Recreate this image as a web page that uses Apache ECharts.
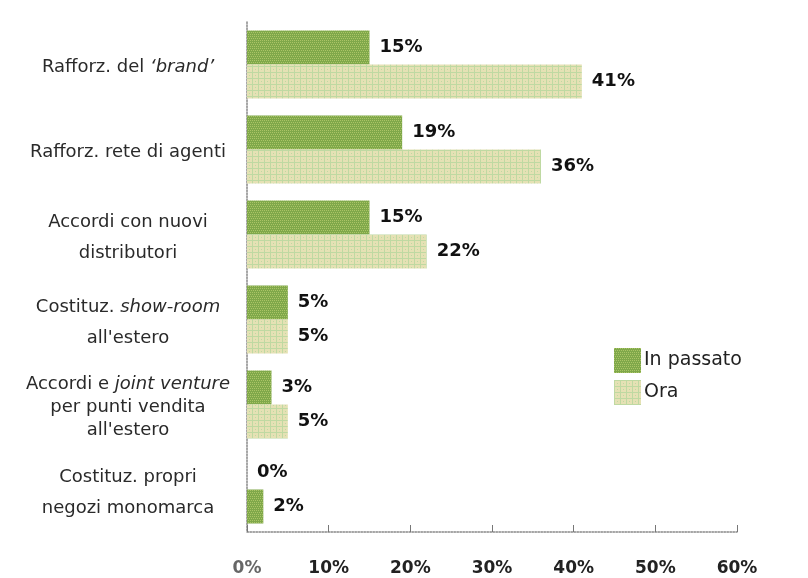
<!DOCTYPE html>
<html>
<head>
<meta charset="utf-8">
<script src="https://cdn.jsdelivr.net/npm/echarts@6/dist/echarts.min.js"></script>
<style>
  html, body { margin: 0; padding: 0; background: #fff; }
  #chart { width: 808px; height: 578px; }
</style>
</head>
<body>
<div id="chart"></div>
<script>
// Strategie di sviluppo commerciale all'estero (% di imprese)
// {i|...} marks the italic part of a category name
const categories = [
  "Rafforz. del {i|‘brand’}",
  "Rafforz. rete di agenti",
  "Accordi con nuovi\ndistributori",
  "Costituz. {i|show-room}\nall'estero",
  "Accordi e {i|joint venture}\nper punti vendita\nall'estero",
  "Costituz. propri\nnegozi monomarca"
];
const seriesNames = ["In passato", "Ora"];
const inPassato = [15, 19, 15, 5, 3, 0];
const ora = [41, 36, 22, 5, 5, 2];
const xTicks = [0, 10, 20, 30, 40, 50, 60];

// Textured fills for the two series
function makePattern(base, dot, kind) {
  const c = document.createElement('canvas');
  c.width = 6; c.height = 6;
  const g = c.getContext('2d');
  g.fillStyle = base;
  g.fillRect(0, 0, 6, 6);
  g.fillStyle = dot;
  if (kind === 'dots') {
    for (let y = 0; y < 6; y += 2) {
      for (let x = (y / 2) % 2; x < 6; x += 2) g.fillRect(x, y, 1, 1);
    }
  } else {
    g.fillRect(0, 0, 6, 1);
    g.fillRect(0, 0, 1, 6);
    g.fillRect(3, 3, 1, 1);
  }
  return { image: c, repeat: 'repeat' };
}
const darkFill = makePattern('#7fa84a', '#abc466', 'dots');
const lightFill = makePattern('#e5e1b4', '#bfd9a2', 'grid');

// Build the rich-text label: short labels get airy line spacing, the
// three-line label a tighter one.
function categoryLabel(value) {
  const lines = value.split('\n');
  const tight = lines.length > 2;
  const n = tight ? 'n3' : 'n';
  const it = tight ? 'i3' : 'i';
  return lines.map(line => {
    const parts = line.split(/(\{i\|[^}]*\})/).filter(s => s.length);
    return parts.map(p => {
      const m = p.match(/^\{i\|([^}]*)\}$/);
      return m ? '{' + it + '|' + m[1] + '}' : '{' + n + '|' + p + '}';
    }).join('');
  }).join('\n');
}

const labelFont = { fontFamily: 'DejaVu Sans', fontSize: 18, color: '#2a2a2a' };

const chart = echarts.init(document.getElementById('chart'), null, { renderer: 'canvas' });

const valueLabel = {
  show: true,
  position: 'right',
  distance: 10,
  formatter: p => p.value + '%',
  fontFamily: 'DejaVu Sans',
  fontWeight: 'bold',
  fontSize: 18,
  color: '#111'
};

chart.setOption({
  animation: false,
  backgroundColor: '#fff',
  grid: { left: 247, right: 71, top: 22, bottom: 46, containLabel: false },
  legend: {
    orient: 'vertical',
    left: 609,
    top: 343,
    itemWidth: 27,
    itemHeight: 25,
    itemGap: 7,
    icon: 'rect',
    textStyle: { fontFamily: 'DejaVu Sans', fontSize: 19, color: '#222', padding: [0, 0, 0, -2] },
    data: seriesNames
  },
  xAxis: {
    type: 'value',
    min: 0,
    max: 60,
    interval: 10,
    splitLine: { show: false },
    axisLine: { show: true, lineStyle: { color: '#888', width: 1.5, type: 'dotted' } },
    axisTick: { show: true, inside: true, length: 7, lineStyle: { color: '#777' } },
    axisLabel: {
      margin: 28,
      customValues: xTicks,
      formatter: v => v === 0 ? '{z|0%}' : '{b|' + v + '%}',
      rich: {
        b: { fontFamily: 'DejaVu Sans', fontWeight: 'bold', fontSize: 17, color: '#222' },
        z: { fontFamily: 'DejaVu Sans', fontWeight: 'bold', fontSize: 17, color: '#666' }
      }
    }
  },
  yAxis: {
    type: 'category',
    inverse: true,
    data: categories,
    axisLine: { show: true, lineStyle: { color: '#888', width: 1.5, type: 'dotted' } },
    axisTick: { show: false },
    axisLabel: {
      align: 'center',
      margin: 119,
      padding: [6, 0, 0, 0],
      formatter: categoryLabel,
      rich: {
        n: Object.assign({ lineHeight: 31 }, labelFont),
        i: Object.assign({ lineHeight: 31, fontStyle: 'italic' }, labelFont),
        n3: Object.assign({ lineHeight: 23 }, labelFont),
        i3: Object.assign({ lineHeight: 23, fontStyle: 'italic' }, labelFont)
      }
    }
  },
  series: [
    {
      name: seriesNames[0],
      type: 'bar',
      barWidth: 34,
      barGap: '0%',
      itemStyle: { color: darkFill },
      label: valueLabel,
      data: inPassato.map((v, i) => i === inPassato.length - 1 ? { value: v, itemStyle: { color: lightFill } } : v)
    },
    {
      name: seriesNames[1],
      type: 'bar',
      barWidth: 34,
      barGap: '0%',
      itemStyle: { color: lightFill },
      label: valueLabel,
      data: ora.map((v, i) => i === ora.length - 1 ? { value: v, itemStyle: { color: darkFill } } : v)
    }
  ]
});
</script>
</body>
</html>
